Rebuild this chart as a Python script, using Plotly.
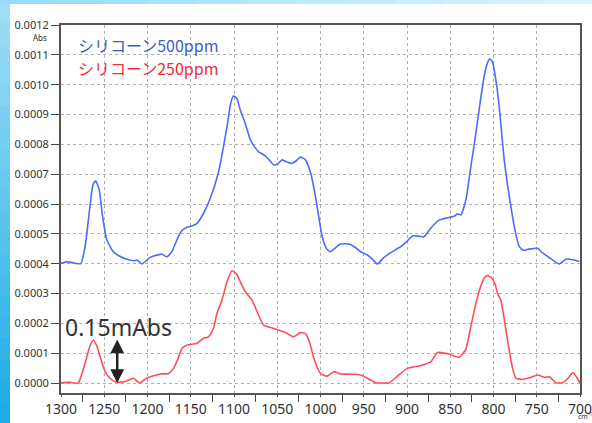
import plotly.graph_objects as go

# ---- data (wavenumber cm-1, absorbance Abs) ----
blue_wn = [1300, 1292, 1285, 1277, 1272, 1267, 1263, 1260, 1256, 1252, 1247, 1239.4, 1232, 1224, 1216, 1212,
           1206.5, 1197, 1190, 1183.4, 1177.6, 1171.8, 1166, 1160.2, 1154.4, 1148, 1142.8, 1135.2, 1127.4,
           1117.8, 1108.1, 1104, 1100.8, 1097, 1092.7, 1087, 1081.1, 1077, 1071.5, 1063, 1054.1, 1049, 1044.4,
           1038, 1032.8, 1028, 1023.2, 1017.4, 1011, 1005.8, 998, 993, 988.4, 982, 976.8, 967.1, 960, 953.6,
           945.8, 940, 934.3, 927, 918.9, 907.3, 900, 893.8, 886, 880.3, 872.6, 862.9, 851.4, 845, 841.6,
           837.8, 832, 826.2, 820.4, 815, 810, 806, 804.2, 801, 797, 793.4, 787.6, 779.9, 775, 770.2, 765,
           760.6, 755, 749, 745, 741.3, 733, 723.9, 716.2, 708, 700.8]
blue_abs = [0.000401, 0.000406, 0.000402, 0.000400, 0.000460, 0.000580, 0.000665, 0.000678, 0.000650,
            0.000560, 0.000479, 0.000440, 0.000425, 0.000415, 0.000410, 0.000412,
            0.000399, 0.000421, 0.000428, 0.000432, 0.000423, 0.000440, 0.000480, 0.000511, 0.000522,
            0.000527, 0.000535, 0.000569, 0.000619,
            0.000708, 0.000859, 0.000935, 0.000962, 0.000955, 0.000915, 0.000870, 0.000815, 0.000795,
            0.000775, 0.000760, 0.000731, 0.000735, 0.000748,
            0.000740, 0.000736, 0.000745, 0.000757, 0.000748, 0.000700, 0.000625, 0.000490, 0.000450,
            0.000440, 0.000455, 0.000466, 0.000466, 0.000455, 0.000440,
            0.000429, 0.000415, 0.000399, 0.000420, 0.000437, 0.000457, 0.000475, 0.000493, 0.000492,
            0.000490, 0.000519, 0.000546, 0.000555, 0.000560, 0.000567,
            0.000563, 0.000613, 0.000725, 0.000837, 0.000950, 0.001040, 0.001080, 0.001086, 0.001075,
            0.001010, 0.000926, 0.000748, 0.000591, 0.000510, 0.000457, 0.000445,
            0.000448, 0.000450, 0.000452, 0.000440, 0.000432, 0.000415, 0.000399, 0.000415, 0.000413, 0.000407]

red_wn = [1300, 1290, 1280, 1276, 1272.2, 1267, 1262.6, 1258, 1254.8, 1249, 1243, 1237.4, 1230, 1223.9,
          1216.2, 1209.3, 1204, 1198.9, 1192, 1185.3, 1175.6, 1169.9, 1165, 1160.2, 1154.4, 1142.8, 1135.2,
          1129.4, 1124, 1119.7, 1113.9, 1108, 1102.3, 1097, 1092, 1086.9, 1079.1, 1072, 1065.7, 1054.1,
          1042.5, 1030.9, 1023.2, 1017.4, 1012, 1007.8, 1000, 992.2, 984.6, 976.8, 965.3, 953.6, 945.8,
          936.2, 928, 920.8, 911.1, 899.6, 886.1, 872.6, 864.8, 851.4, 839.8, 832, 826.2, 820.4, 814,
          810, 806.7, 802, 798, 795.3, 791.5, 783.8, 778, 774.1, 766.4, 756.8, 749, 741.3, 735.5, 727.8,
          720, 714, 708.4, 704, 700]
red_abs = [0.000001, 0.000002, 0.000000, 0.000030, 0.000066, 0.000120, 0.000144, 0.000120, 0.000088,
           0.000038, 0.000015, 0.000004, 0.000003, 0.000007,
           0.000016, 0.000000, 0.000010, 0.000019, 0.000025, 0.000030, 0.000032, 0.000049, 0.000080,
           0.000116, 0.000127, 0.000133, 0.000150,
           0.000155, 0.000180, 0.000234, 0.000278, 0.000340, 0.000376, 0.000365, 0.000335, 0.000306,
           0.000278, 0.000230, 0.000194, 0.000183,
           0.000172, 0.000155, 0.000169, 0.000166, 0.000130, 0.000083, 0.000032, 0.000023, 0.000038,
           0.000030, 0.000030, 0.000027, 0.000016,
           0.000001, 0.000000, 0.000000, 0.000023, 0.000049, 0.000057, 0.000071, 0.000102, 0.000097,
           0.000086, 0.000113, 0.000189, 0.000267, 0.000330,
           0.000355, 0.000360, 0.000352, 0.000330, 0.000300, 0.000278, 0.000144, 0.000050, 0.000016,
           0.000012, 0.000019, 0.000027, 0.000019, 0.000021, 0.000001,
           0.000001, 0.000015, 0.000035, 0.000020, 0.000000]

series_names = ["シリコーン500ppm", "シリコーン250ppm"]
x_ticks = [1300, 1250, 1200, 1150, 1100, 1050, 1000, 950, 900, 850, 800, 750, 700]
y_ticks = [i * 0.0001 for i in range(13)]
scale_label = "0.15mAbs"
scale_bar = (1235, 0.0, 0.000151)  # x, bottom, top

BLUE_LINE = "#4d6df5"
RED_LINE = "#ff4d55"
BLUE_TXT = "#3d5cc4"
RED_TXT = "#ec2d3d"

fig = go.Figure()
fig.add_trace(go.Scatter(x=blue_wn, y=blue_abs, mode="lines", name=series_names[0],
                         line=dict(color=BLUE_LINE, width=1.6, shape="spline", smoothing=0.5)))
fig.add_trace(go.Scatter(x=red_wn, y=red_abs, mode="lines", name=series_names[1],
                         line=dict(color=RED_LINE, width=1.6, shape="spline", smoothing=0.5)))

W, H = 592, 423
ml, mr, mt, mb = 61, 12, 25, 30
pw, ph = W - ml - mr, H - mt - mb


def px(xp):
    return (xp - ml) / pw


def py(yp):
    return (H - mb - yp) / ph


shapes = []
# left blue gradient strip
n = 20
top_c = (160, 222, 247)
bot_c = (30, 172, 232)
for i in range(n):
    t = i / (n - 1)
    c = tuple(int(top_c[k] + (bot_c[k] - top_c[k]) * t) for k in range(3))
    y0p = i * H / n
    y1p = (i + 1) * H / n + 1
    shapes.append(dict(type="rect", xref="paper", yref="paper", x0=px(0), x1=px(10),
                       y0=py(y1p), y1=py(y0p), fillcolor="rgb(%d,%d,%d)" % c, line=dict(width=0),
                       layer="below"))
# top light strip
m = 12
for i in range(m):
    t = i / (m - 1)
    c = (int(150 + 70 * t), int(220 + 25 * t), int(247 + 6 * t))
    shapes.append(dict(type="rect", xref="paper", yref="paper", x0=px(i * W / m), x1=px((i + 1) * W / m + 1),
                       y0=py(4), y1=py(0), fillcolor="rgb(%d,%d,%d)" % c, line=dict(width=0), layer="below"))

annotations = [
    dict(text=series_names[0], xref="paper", yref="paper", x=px(76), y=py(45), xanchor="left",
         yanchor="middle", showarrow=False, font=dict(family="Noto Sans CJK JP", size=16, color=BLUE_TXT)),
    dict(text=series_names[1], xref="paper", yref="paper", x=px(76), y=py(68), xanchor="left",
         yanchor="middle", showarrow=False, font=dict(family="Noto Sans CJK JP", size=16, color=RED_TXT)),
    dict(text="Abs", xref="paper", yref="paper", x=px(40), y=py(37), xanchor="center", yanchor="middle",
         showarrow=False, font=dict(family="Noto Sans", size=8, color="#333")),
    dict(text="cm<sup>-1</sup>", xref="paper", yref="paper", x=px(585), y=py(423), xanchor="center",
         yanchor="bottom", showarrow=False, font=dict(family="Noto Sans", size=7, color="#333")),
    dict(text=scale_label, xref="x", yref="y", x=1233, y=0.000188, xanchor="center", yanchor="middle",
         showarrow=False, font=dict(family="Noto Sans", size=23, color="#333")),
    dict(text="", xref="x", yref="y", x=scale_bar[0], y=scale_bar[1], axref="x", ayref="y",
         ax=scale_bar[0], ay=scale_bar[2], showarrow=True, arrowhead=2, arrowside="end+start",
         arrowsize=1.1, arrowwidth=2.5, arrowcolor="#222"),
]

fig.update_layout(
    width=W, height=H,
    margin=dict(l=ml, r=mr, t=mt, b=mb, pad=0, autoexpand=False),
    paper_bgcolor="white", plot_bgcolor="white",
    showlegend=False,
    shapes=shapes,
    annotations=annotations,
    font=dict(family="Noto Sans", color="#333"),
)
fig.update_xaxes(
    range=[1300, 700], autorange=False, automargin=False,
    tickmode="array", tickvals=x_ticks, ticktext=[str(v) for v in x_ticks],
    tickfont=dict(size=14, color="#333"), ticklabeloverflow="allow",
    ticks="outside", ticklen=2, tickcolor="#444",
    minor=dict(tickmode="array", tickvals=[1275 - 50 * i for i in range(12)], ticks="outside",
               ticklen=7, tickcolor="#444", showgrid=False),
    showgrid=True, gridcolor="#b0b0b0", griddash="dot", gridwidth=1,
    showline=True, linecolor="#555", linewidth=2, mirror=True,
    zeroline=False,
)
fig.update_yaxes(
    range=[-0.0000335, 0.0012], autorange=False, automargin=False,
    tickmode="array", tickvals=y_ticks, ticktext=["%.4f" % v for v in y_ticks],
    tickfont=dict(size=11, color="#333"), ticklabeloverflow="allow",
    ticks="outside", ticklen=8, tickcolor="#444",
    showgrid=True, gridcolor="#b0b0b0", griddash="dot", gridwidth=1,
    showline=True, linecolor="#555", linewidth=2, mirror=True,
    zeroline=False,
)

fig.write_html("out.html", config={"displayModeBar": False},
               post_script="document.body.style.margin='0';document.body.style.overflow='hidden';")
